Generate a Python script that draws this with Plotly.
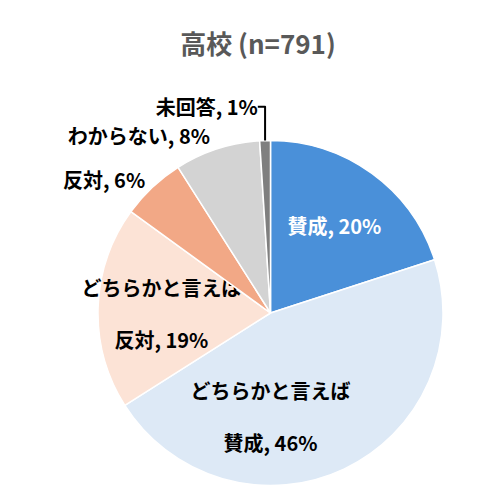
import plotly.graph_objects as go

labels = ["賛成", "どちらかと言えば<br> <br>賛成", "どちらかと言えば<br> <br>反対", "反対", "わからない", "未回答"]
values = [20, 46, 19, 6, 8, 1]
colors = ["#4a90d9", "#dde9f6", "#fce3d6", "#f2a886", "#d3d3d3", "#7f7f7f"]
text_colors = ["white", "black", "black", "black", "black", "black"]
positions = ["inside", "inside", "inside", "outside", "outside", "outside"]

fig = go.Figure(go.Pie(
    labels=labels,
    values=values,
    sort=False,
    direction="clockwise",
    rotation=0,
    marker=dict(colors=colors, line=dict(color="white", width=1.5)),
    texttemplate="<b>%{label}, %{value}%</b>",
    textposition=positions,
    insidetextorientation="horizontal",
    textfont=dict(color=text_colors, size=20, family="Noto Sans CJK JP"),
    outsidetextfont=dict(color="black", size=20, family="Noto Sans CJK JP"),
    domain=dict(x=[0.18, 0.87], y=[0.04, 0.74]),
    showlegend=False,
))

fig.update_layout(
    width=500, height=500,
    margin=dict(l=0, r=0, t=0, b=0),
    paper_bgcolor="white",
    font=dict(family="Noto Sans CJK JP", color="black"),
    title=dict(text="<b>高校 (n=791)</b>", x=0.5, y=0.945, xanchor="center",
               font=dict(size=26, color="#595959")),
    uniformtext=dict(minsize=18, mode="show"),
)

fig.write_html("out.html")
